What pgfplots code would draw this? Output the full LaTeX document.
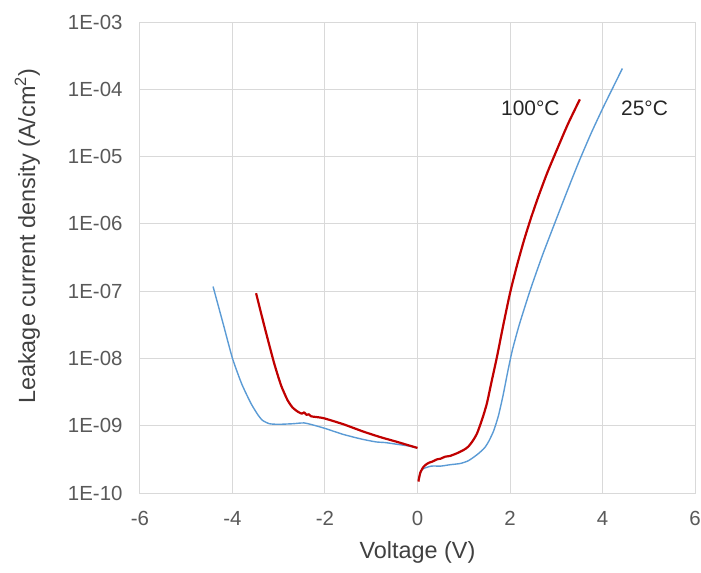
\documentclass[border=0pt]{standalone}
\usepackage{pgfplots}
\pgfplotsset{compat=1.18}
\usepackage{fontspec}
\setmainfont{Liberation Sans}

\definecolor{gridgray}{RGB}{217,217,217}
\definecolor{tickgray}{RGB}{89,89,89}
\definecolor{labelgray}{RGB}{64,64,64}
\definecolor{rtblue}{RGB}{91,155,213}
\definecolor{hotred}{RGB}{192,0,0}

\begin{document}
\begin{tikzpicture}
\begin{axis}[
scale only axis,
width=555bp, height=471bp,
ymode=log,
xmin=-6, xmax=6,
ymin=1e-10, ymax=1e-3,
xtick={-6,-4,-2,0,2,4,6},
xticklabels={-6,-4,-2,0,2,4,6},
ytick={1e-10,1e-9,1e-8,1e-7,1e-6,1e-5,1e-4,1e-3},
yticklabels={1E-10,1E-09,1E-08,1E-07,1E-06,1E-05,1E-04,1E-03},
minor tick num=0,
yminorticks=false,
major tick length=0pt,
grid=major,
grid style={gridgray, line width=1bp},
axis line style={gridgray, line width=1bp},
tick style={draw=none},
ticklabel style={font=\fontsize{20.5}{24}\selectfont, text=tickgray},
yticklabel style={xshift=-14bp},
xticklabel style={yshift=-15bp},
xlabel={Voltage (V)},
ylabel={Leakage current density (A/cm\textsuperscript{2})},
label style={font=\fontsize{23.5}{28}\selectfont, text=labelgray},
xlabel style={at={(axis description cs:0.5,0)}, anchor=base, yshift=-65bp},
ylabel style={at={(axis description cs:-0.189,0.545)}, anchor=base, rotate=0},
unbounded coords=jump,
clip=false,
]
% 25 C
\addplot [rtblue, line width=1.4bp, line join=round, smooth, tension=0.35] table {
x y
-4.42 1.17e-7
-4.2 3.24e-8
-4.0 1.0e-8
-3.8 4.17e-9
-3.6 2.14e-9
-3.45 1.45e-9
-3.35 1.20e-9
-3.2 1.07e-9
-3.0 1.05e-9
-2.7 1.07e-9
-2.45 1.10e-9
-2.2 1.0e-9
-2.0 9.12e-10
-1.6 7.41e-10
-1.2 6.31e-10
-0.9 5.75e-10
-0.7 5.62e-10
-0.5 5.37e-10
-0.2 5.01e-10
-0.02 4.68e-10
0.01 nan
0.02 1.58e-10
0.1 2.24e-10
0.3 2.51e-10
0.5 2.51e-10
0.7 2.63e-10
0.93 2.75e-10
1.1 3.02e-10
1.29 3.72e-10
1.45 4.68e-10
1.55 6.03e-10
1.65 8.51e-10
1.75 1.41e-9
1.85 2.82e-9
1.95 6.31e-9
2.05 1.32e-8
2.2 3.16e-8
2.44 1.05e-7
2.7 3.39e-7
3.0 1.17e-6
3.25 3.24e-6
3.5 8.71e-6
3.75 2.19e-5
4.0 5.13e-5
4.2 9.77e-5
4.43 2.04e-4
};
% 100 C
\addplot [hotred, line width=2.2bp, line join=round, smooth, tension=0.35] table {
x y
-3.49 9.33e-8
-3.3 2.82e-8
-3.1 8.51e-9
-2.95 3.98e-9
-2.81 2.40e-9
-2.7 1.86e-9
-2.59 1.62e-9
-2.5 1.51e-9
-2.45 1.58e-9
-2.4 1.45e-9
-2.35 1.48e-9
-2.3 1.38e-9
-2.2 1.35e-9
-2.02 1.29e-9
-1.6 1.05e-9
-1.16 8.13e-10
-0.8 6.76e-10
-0.44 5.75e-10
-0.2 5.13e-10
0 4.68e-10
0.01 nan
0.02 1.48e-10
0.06 2.0e-10
0.13 2.45e-10
0.2 2.70e-10
0.25 2.82e-10
0.33 2.95e-10
0.42 3.16e-10
0.5 3.24e-10
0.6 3.47e-10
0.7 3.55e-10
0.85 3.89e-10
1.0 4.37e-10
1.1 4.90e-10
1.2 6.03e-10
1.29 7.76e-10
1.4 1.26e-9
1.5 2.14e-9
1.6 4.47e-9
1.72 1.07e-8
1.85 3.02e-8
2.0 9.33e-8
2.15 2.40e-7
2.3 5.62e-7
2.45 1.20e-6
2.6 2.40e-6
2.8 5.62e-6
3.0 1.20e-5
3.25 3.02e-5
3.51 7.08e-5
};
\node [font=\fontsize{21}{25}\selectfont, text=black!85] at (axis cs:2.44,5.25e-5) {100°C};
\node [font=\fontsize{21}{25}\selectfont, text=black!85] at (axis cs:4.91,5.25e-5) {25°C};
\end{axis}
\pgfresetboundingbox
\useasboundingbox (-140bp,-80bp) rectangle (561bp,493bp);
\end{tikzpicture}
\end{document}
